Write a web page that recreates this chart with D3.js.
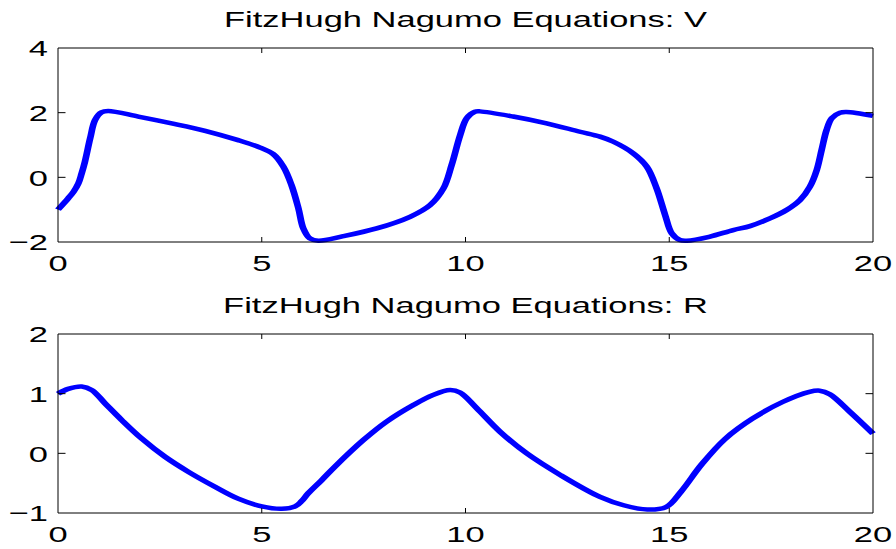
<!DOCTYPE html>
<html>
<head>
<meta charset="utf-8">
<script src="https://cdn.jsdelivr.net/npm/d3@7"></script>
<style>
  html, body { margin: 0; padding: 0; background: #fff; }
  svg { display: block; font-family: "Liberation Sans", Arial, Helvetica, sans-serif; }
</style>
</head>
<body>
<svg id="chart" width="896" height="549"></svg>
<script>
// values
const tV = [0, 0.25, 0.38, 0.5, 0.58, 0.66, 0.79, 0.91, 1.07, 1.23, 1.97, 2.79, 3.61, 4.42, 4.96, 5.28, 5.53, 5.73, 5.9, 6.02, 6.18, 6.39,
  7.0, 7.82, 8.64, 9.13, 9.46, 9.66, 9.87, 10.03, 10.23, 10.36, 11.17, 11.99, 12.81, 13.3, 13.63, 14.12, 14.45, 14.69, 14.9,
  15.06, 15.26, 15.43, 15.98, 16.57, 16.98, 17.47, 17.88, 18.21, 18.45, 18.62, 18.74, 18.86, 18.99, 19.19, 19.35, 20];
const vValues = [-1.0, -0.65, -0.45, -0.19, 0.12, 0.48, 1.21, 1.77, 2.01, 2.05, 1.88, 1.67, 1.44, 1.15, 0.92, 0.72, 0.33, -0.24, -0.96, -1.58, -1.89, -1.96,
  -1.82, -1.58, -1.22, -0.86, -0.34, 0.38, 1.31, 1.83, 2.03, 2.04, 1.88, 1.67, 1.41, 1.26, 1.1, 0.74, 0.33, -0.34, -1.17,
  -1.73, -1.94, -1.96, -1.84, -1.63, -1.51, -1.27, -1.01, -0.7, -0.29, 0.23, 0.85, 1.46, 1.83, 2.0, 2.02, 1.9];

const tR = [0, 0.25, 0.58, 0.83, 1.15, 1.56, 2.05, 2.63, 3.2, 3.85, 4.42, 5.0, 5.49, 5.82, 5.98, 6.14, 6.47, 6.8, 7.49, 8.06, 8.72,
  9.21, 9.62, 9.865, 10.27, 10.85, 11.5, 12.32, 13.3, 13.88, 14.46, 14.92, 15.29, 15.79, 16.37, 17.04, 17.78, 18.44, 18.69,
  18.94, 19.44, 20];
const rValues = [1.0, 1.08, 1.12, 1.06, 0.84, 0.56, 0.25, -0.06, -0.31, -0.56, -0.76, -0.89, -0.93, -0.89, -0.8, -0.67, -0.45, -0.22, 0.22, 0.53, 0.81,
  0.98, 1.06, 1.02, 0.76, 0.36, 0.0, -0.36, -0.73, -0.87, -0.94, -0.9, -0.64, -0.19, 0.24, 0.58, 0.86, 1.03, 1.05,
  0.99, 0.69, 0.33];

const xTicks = [0, 5, 10, 15, 20];
const vTicks = [-2, 0, 2, 4];
const rTicks = [-1, 0, 1, 2];
const titles = ["FitzHugh Nagumo Equations: V", "FitzHugh Nagumo Equations: R"];

const svg = d3.select("#chart");
const sx = 1.5; // picture is stretched horizontally
const fontSize = 23;
const left = 58, right = 873;

const panels = [
  { title: titles[0], t: tV, v: vValues, domain: [-2, 4], ticks: vTicks, top: 48, bottom: 242, titleY: 27 },
  { title: titles[1], t: tR, v: rValues, domain: [-1, 2], ticks: rTicks, top: 334, bottom: 513, titleY: 313 }
];

// x scale in un-stretched units, the groups are scaled by sx
const x = d3.scaleLinear().domain([0, 20]).range([left / sx, right / sx]);

panels.forEach((p) => {
  const y = d3.scaleLinear().domain(p.domain).range([p.bottom, p.top]);
  const g = svg.append("g").attr("transform", `scale(${sx},1)`);

  // curve
  const pts = p.t.map((t, i) => [t, p.v[i]]);
  g.append("path")
    .datum(pts)
    .attr("fill", "none")
    .attr("stroke", "#0000ff")
    .attr("stroke-width", 4.5)
    .attr("stroke-linejoin", "round")
    .attr("d", d3.line().x((d) => x(d[0])).y((d) => y(d[1])).curve(d3.curveCatmullRom.alpha(0.5)));

  // box
  g.append("rect")
    .attr("x", x(0))
    .attr("y", p.top)
    .attr("width", x(20) - x(0))
    .attr("height", p.bottom - p.top)
    .attr("fill", "none")
    .attr("stroke", "#000")
    .attr("stroke-width", 1)
    .attr("vector-effect", "non-scaling-stroke");

  // inward ticks
  g.selectAll(".xt").data(xTicks.slice(1, -1)).enter().append("path")
    .attr("d", (d) => `M${x(d)},${p.bottom}v-5M${x(d)},${p.top}v5`)
    .attr("stroke", "#000")
    .attr("vector-effect", "non-scaling-stroke");

  g.selectAll(".yt").data(p.ticks.slice(1, -1)).enter().append("path")
    .attr("d", (d) => `M${x(0)},${y(d)}h5M${x(20)},${y(d)}h-5`)
    .attr("stroke", "#000")
    .attr("vector-effect", "non-scaling-stroke");

  // x labels
  g.selectAll(".xl").data(xTicks).enter().append("text")
    .attr("x", (d) => x(d))
    .attr("y", p.bottom + 29)
    .attr("text-anchor", "middle")
    .attr("font-size", fontSize)
    .attr("fill", "#000")
    .text((d) => d);

  // y labels
  g.selectAll(".yl").data(p.ticks).enter().append("text")
    .attr("x", x(0) - 10 / sx)
    .attr("y", (d) => y(d))
    .attr("dy", "0.36em")
    .attr("text-anchor", "end")
    .attr("font-size", fontSize)
    .attr("fill", "#000")
    .text((d) => (d < 0 ? "\u2212" + Math.abs(d) : d));

  // title
  g.append("text")
    .attr("x", x(10))
    .attr("y", p.titleY)
    .attr("text-anchor", "middle")
    .attr("font-size", fontSize)
    .attr("fill", "#000")
    .text(p.title);
});
</script>
</body>
</html>
